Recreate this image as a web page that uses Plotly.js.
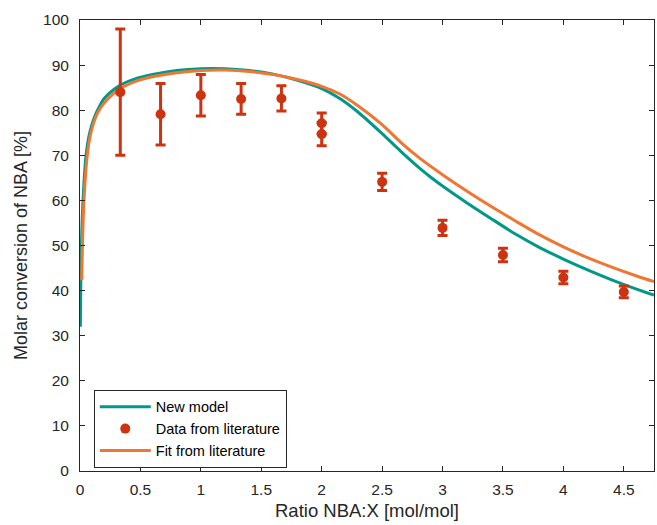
<!DOCTYPE html>
<html>
<head>
<meta charset="utf-8">
<script src="https://cdn.plot.ly/plotly-3.0.1.min.js"></script>
<style>html,body{margin:0;padding:0;background:#fff}#chart{width:657px;height:525px}</style>
</head>
<body>
<div id="chart"></div>
<script>
// New model curve
const modelX = [0.003, 0.01, 0.025, 0.05, 0.08, 0.12, 0.16, 0.2, 0.28, 0.35, 0.45, 0.6, 0.8, 1.0, 1.2, 1.4, 1.6, 1.8, 2.0, 2.15, 2.3, 2.5, 2.65, 2.8, 2.9, 3.0, 3.2, 3.4, 3.6, 3.8, 4.0, 4.2, 4.4, 4.6, 4.75];
const modelY = [32, 48, 60, 70, 75, 78.5, 80.8, 82.6, 84.6, 85.8, 86.9, 87.9, 88.8, 89.2, 89.2, 88.8, 88.0, 86.6, 84.8, 82.6, 79.6, 74.8, 71.0, 67.4, 65.2, 63.2, 59.5, 56.0, 52.6, 49.6, 47.0, 44.6, 42.4, 40.4, 39.0];
// Fit from literature curve
const fitX = [0.014, 0.02, 0.033, 0.06, 0.09, 0.13, 0.17, 0.22, 0.32, 0.45, 0.6, 0.8, 1.0, 1.2, 1.4, 1.6, 1.8, 2.0, 2.15, 2.3, 2.5, 2.65, 2.8, 3.0, 3.2, 3.4, 3.6, 3.8, 4.0, 4.2, 4.4, 4.6, 4.75];
const fitY = [42.3, 50, 60, 70, 75, 78.5, 80.5, 82.2, 84.6, 86.3, 87.4, 88.3, 88.8, 88.9, 88.6, 87.9, 86.8, 85.3, 83.6, 81.0, 76.8, 73.0, 69.6, 65.7, 62.1, 58.7, 55.5, 52.4, 49.7, 47.3, 45.2, 43.3, 42.0];
// Data from literature
const dataX = [0.3333, 0.6667, 1.0, 1.3333, 1.6667, 2.0, 2.0, 2.5, 3.0, 3.5, 4.0, 4.5];
const dataY = [84.0, 79.1, 83.3, 82.5, 82.6, 77.1, 74.7, 64.1, 53.9, 47.9, 42.9, 39.7];
const dataErr = [14.0, 6.8, 4.6, 3.4, 2.8, 2.3, 2.6, 1.9, 1.7, 1.5, 1.4, 1.3];

const teal = '#009988', orange = '#EE7733', red = '#CC3311';
const axisCol = '#262626';
const fam = 'Liberation Sans, Arial, sans-serif';

const traces = [
  {x: modelX, y: modelY, type: 'scatter', mode: 'lines', name: 'New model',
   line: {color: teal, width: 3, shape: 'spline', smoothing: 0.7}, legendrank: 1},
  {x: fitX, y: fitY, type: 'scatter', mode: 'lines', name: 'Fit from literature',
   line: {color: orange, width: 3, shape: 'spline', smoothing: 0.7}, legendrank: 3},
  {x: dataX, y: dataY, type: 'scatter', mode: 'markers', name: 'Data from literature',
   marker: {color: red, size: 10, symbol: 'circle'},
   error_y: {type: 'data', array: dataErr, visible: true, color: red, thickness: 3, width: 5},
   legendrank: 2}
];

const axisCommon = {
  showline: true, linecolor: axisCol, linewidth: 1, mirror: 'ticks',
  ticks: 'inside', ticklen: 5, tickwidth: 1, tickcolor: axisCol,
  showgrid: false, zeroline: false,
  tickfont: {family: fam, size: 15.5, color: axisCol}
};

const layout = {
  width: 657, height: 525,
  margin: {l: 80, r: 3, t: 20, b: 54},
  paper_bgcolor: '#fff', plot_bgcolor: '#fff',
  showlegend: true,
  font: {family: fam, color: axisCol},
  xaxis: Object.assign({}, axisCommon, {
    range: [0, 4.75], tickvals: [0, 0.5, 1, 1.5, 2, 2.5, 3, 3.5, 4, 4.5],
    ticktext: ['0', '0.5', '1', '1.5', '2', '2.5', '3', '3.5', '4', '4.5'],
    ticklabelstandoff: 4,
    title: {text: 'Ratio NBA:X [mol/mol]', font: {family: fam, size: 18.5, color: axisCol}, standoff: 7}
  }),
  yaxis: Object.assign({}, axisCommon, {
    range: [0, 100], tickvals: [0, 10, 20, 30, 40, 50, 60, 70, 80, 90, 100],
    ticklabelstandoff: 7,
    title: {text: 'Molar conversion of NBA [%]', font: {family: fam, size: 18, color: axisCol}, standoff: 10}
  }),
  legend: {
    x: 0.024, y: 0.18, xanchor: 'left', yanchor: 'top',
    bgcolor: '#fff', bordercolor: axisCol, borderwidth: 1,
    itemwidth: 51,
    font: {family: fam, size: 14.5, color: '#000'}, traceorder: 'normal'
  }
};

Plotly.newPlot('chart', traces, layout, {displayModeBar: false, staticPlot: true});
</script>
</body>
</html>
